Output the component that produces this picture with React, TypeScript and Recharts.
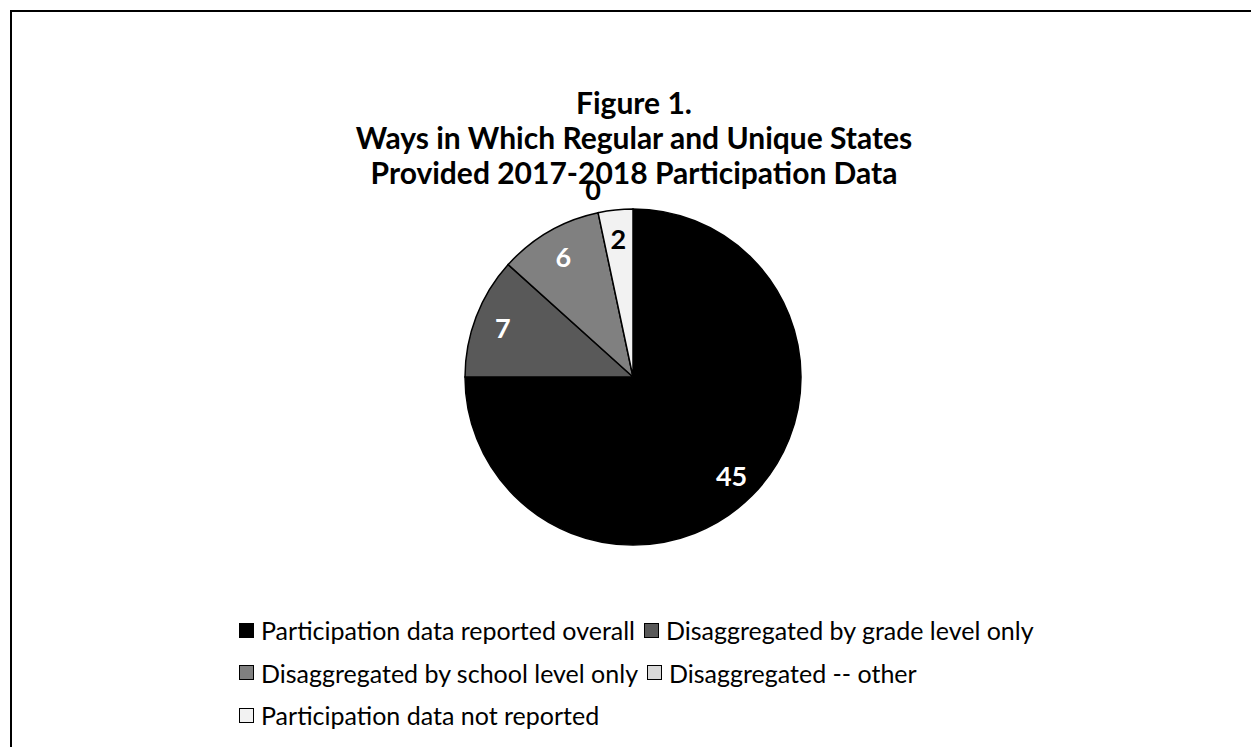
import { Legend, Pie, PieChart, Cell } from "recharts";

const categories = [
  "Participation data reported overall",
  "Disaggregated by grade level only",
  "Disaggregated by school level only",
  "Disaggregated -- other",
  "Participation data not reported",
];
const counts = [45, 7, 6, 0, 2];
const fills = ["#000000", "#595959", "#808080", "#d9d9d9", "#f2f2f2"];
const titleLines = [
  "Figure 1.",
  "Ways in Which Regular and Unique States",
  "Provided 2017-2018 Participation Data",
];

const data = categories.map((name, i) => ({ name, value: counts[i], fill: fills[i] }));

const FONT = "Lato, 'Open Sans', sans-serif";

const RADIAN = Math.PI / 180;

function renderLabel(props: any) {
  const { cx, cy, midAngle, outerRadius, value, index } = props;
  const r = value === 0 ? outerRadius + 24 : outerRadius * 0.83;
  const x = cx + r * Math.cos(-midAngle * RADIAN);
  const y = cy + r * Math.sin(-midAngle * RADIAN);
  const dark = value !== 0 && index < 3;
  return (
    <text
      x={x}
      y={y}
      fill={dark ? "#ffffff" : "#000000"}
      textAnchor="middle"
      dominantBaseline="central"
      fontFamily={FONT}
      fontWeight={700}
      fontSize={27}
    >
      {value}
    </text>
  );
}

function LegendRows({ payload }: any) {
  const items = [...(payload || [])].sort(
    (a: any, b: any) => categories.indexOf(a.value) - categories.indexOf(b.value)
  );
  const rows: any[][] = [];
  for (let i = 0; i < items.length; i += 2) rows.push(items.slice(i, i + 2));
  return (
    <div style={{ fontFamily: FONT, fontSize: 25, color: "#000" }}>
      {rows.map((row, ri) => (
        <div key={ri} style={{ display: "flex", alignItems: "center", height: 42.5, whiteSpace: "nowrap" }}>
          {row.map((it: any, j: number) => (
            <div key={j} style={{ display: "flex", alignItems: "center", marginRight: 9 }}>
              <span
                style={{
                  display: "inline-block",
                  width: 13,
                  height: 13,
                  background: it.payload?.fill ?? it.color,
                  border: "1px solid #000",
                  marginRight: 7,
                }}
              />
              <span>{it.value}</span>
            </div>
          ))}
        </div>
      ))}
    </div>
  );
}

export default function App() {
  return (
    <div style={{ margin: -8, width: 1259, height: 755, position: "relative", overflow: "hidden", background: "#fff" }}>
      <div
        style={{
          position: "absolute",
          left: 10,
          top: 10,
          width: 1246,
          height: 800,
          border: "2px solid #000",
        }}
      />
      <div
        style={{
          position: "absolute",
          left: 0,
          top: 85,
          width: 1268,
          textAlign: "center",
          fontFamily: FONT,
          fontWeight: 700,
          fontSize: 30,
          lineHeight: "35px",
        }}
      >
        {titleLines.map((t) => (
          <div key={t}>{t}</div>
        ))}
      </div>
      <div style={{ position: "absolute", left: 0, top: 0 }}>
        <PieChart width={1259} height={755} margin={{ top: 0, right: 0, bottom: 0, left: 0 }}>
          <Pie
            data={data}
            dataKey="value"
            nameKey="name"
            cx={633}
            cy={377}
            outerRadius={168}
            startAngle={90}
            endAngle={-270}
            stroke="#000"
            strokeWidth={1.5}
            label={renderLabel}
            labelLine={false}
            isAnimationActive={false}
          >
            {data.map((d, i) => (
              <Cell key={i} fill={d.fill} />
            ))}
          </Pie>
          <Legend
            content={<LegendRows />}
            wrapperStyle={{ position: "absolute", left: 239, top: 609, width: 900 }}
          />
        </PieChart>
      </div>
    </div>
  );
}
